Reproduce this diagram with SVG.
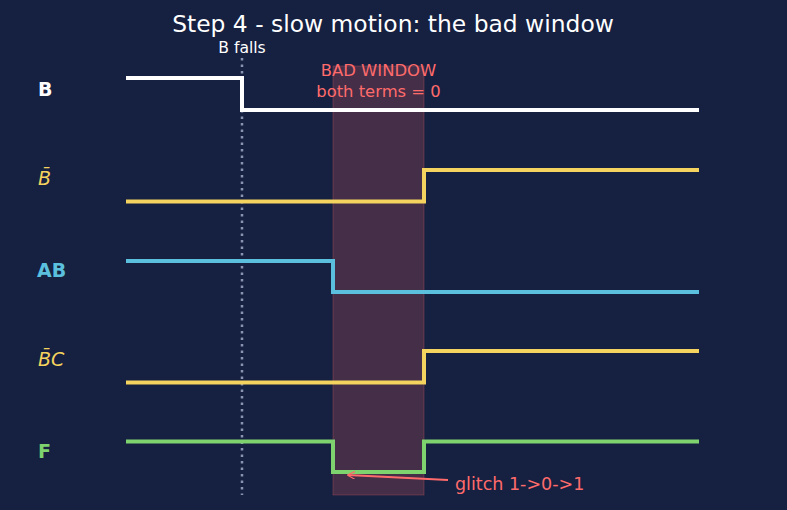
<svg xmlns="http://www.w3.org/2000/svg" width="787" height="510" viewBox="0 0 787 510">
<style>
text{font-family:"DejaVu Sans","Liberation Sans",sans-serif}
.tr{fill:none;stroke-width:4;stroke-linejoin:miter}
.lbl{font-size:19px;font-weight:bold}
.it{font-size:19px;font-style:italic;fill:#f4d35e}
.red{fill:#ff6b6b}
</style>
<defs>
<marker id="ah" viewBox="0 0 10 10" refX="9" refY="5" markerWidth="8" markerHeight="8" orient="auto" markerUnits="userSpaceOnUse">
<path d="M10,5 L0,0 M10,5 L0,10" stroke="#ff6b6b" stroke-width="1.5" fill="none"/>
</marker>
</defs>
<rect width="787" height="510" fill="#162040"/>
<text x="393" y="32" text-anchor="middle" font-size="23.4" fill="#ffffff">Step 4 - slow motion: the bad window</text>
<g id="window">
<rect x="333" y="66" width="91" height="429" fill="#ff6b6b" fill-opacity="0.2" stroke="#ff6b6b" stroke-opacity="0.25" stroke-width="1"/>
<text x="378.5" y="76" text-anchor="middle" font-size="16.4" class="red">BAD WINDOW</text>
<text x="378.5" y="97" text-anchor="middle" font-size="16.4" class="red">both terms = 0</text>
</g>
<g id="bfalls">
<line x1="242" y1="58" x2="242" y2="495" stroke="#8a93b0" stroke-width="2.5" stroke-dasharray="2.5,4"/>
<text x="242" y="53" text-anchor="middle" font-size="15.6" fill="#ffffff">B falls</text>
</g>
<g id="B">
<text x="38" y="96" class="lbl" fill="#ffffff">B</text>
<path class="tr" stroke="#ffffff" d="M126,78 H242 V110 H699"/>
</g>
<g id="Bbar">
<text x="38" y="185" class="it">B̄</text>
<path class="tr" stroke="#f4d35e" d="M126,201.5 H424 V170 H699"/>
</g>
<g id="AB">
<text x="37" y="277" class="lbl" fill="#5bc0de">AB</text>
<path class="tr" stroke="#5bc0de" d="M126,261 H333 V292 H699"/>
</g>
<g id="BbarC">
<text x="38" y="366" class="it">B̄C</text>
<path class="tr" stroke="#f4d35e" d="M126,382.5 H424 V351 H699"/>
</g>
<g id="F">
<text x="38" y="458" class="lbl" fill="#7ed36f">F</text>
<path class="tr" stroke="#7ed36f" d="M126,441.5 H333 V472 H424 V441.5 H699"/>
</g>
<g id="connectors">
<line x1="448" y1="480" x2="348" y2="475" stroke="#ff6b6b" stroke-width="1.8" marker-end="url(#ah)"/>
<text x="455" y="490" font-size="17.5" class="red">glitch 1-&gt;0-&gt;1</text>
</g>
</svg>
